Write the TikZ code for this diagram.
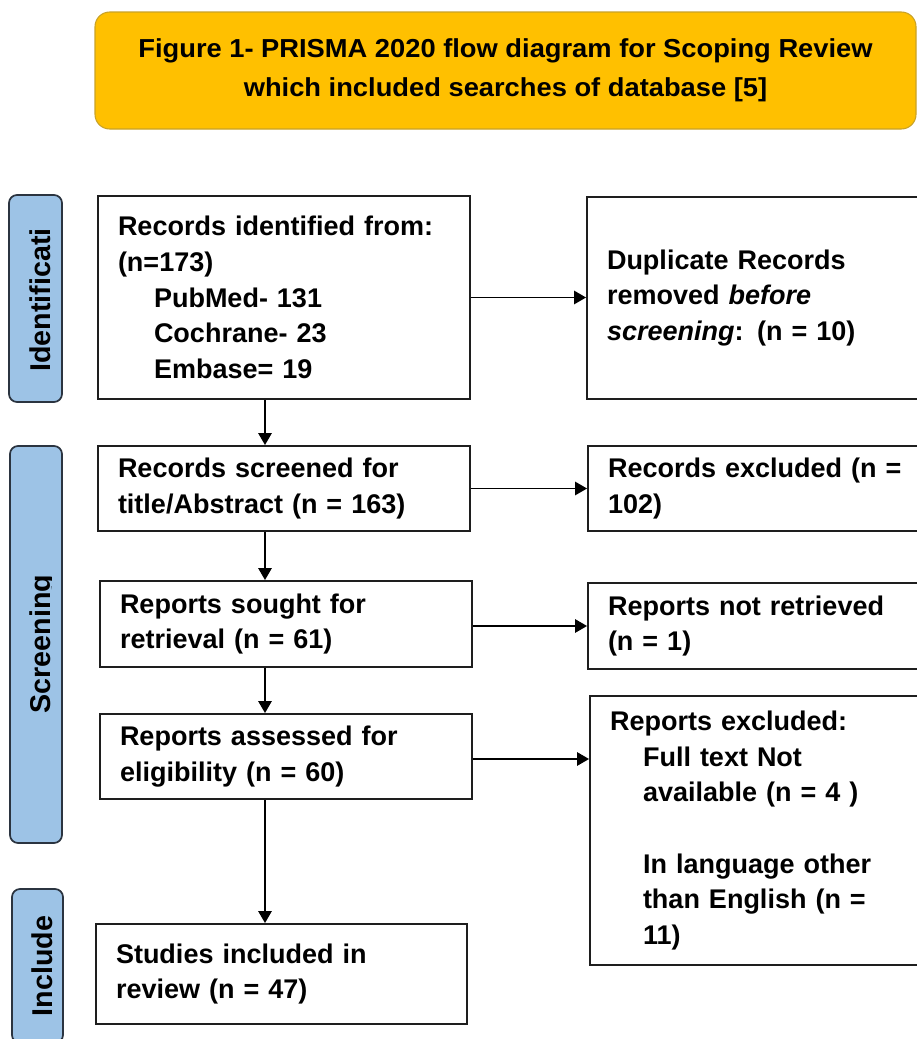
\documentclass[tikz,border=0pt]{standalone}
\usepackage{fontspec}
\setmainfont{Liberation Sans}
\newfontfamily\headfont[FakeStretch=1.05]{Liberation Sans}
\usetikzlibrary{arrows.meta}
\definecolor{gold}{HTML}{FFC000}
\definecolor{goldline}{HTML}{C9A227}
\definecolor{sideblue}{HTML}{9DC3E6}
\definecolor{sideline}{HTML}{2B3440}
\definecolor{boxline}{HTML}{1E1E1E}
\tikzset{
  mbox/.style={draw=boxline, line width=1.4pt, fill=white, rectangle, align=left,
    inner xsep=15pt, inner ysep=0pt, anchor=center,
    font=\bfseries\fontsize{20.25pt}{26.8pt}\selectfont},
  sidebox/.style={draw=sideline, line width=1.3pt, fill=sideblue, rounded corners=6pt},
  sidetext/.style={rotate=90, anchor=base, inner sep=0pt,
    font=\bfseries\fontsize{21.5pt}{26pt}\selectfont},
  arr/.style={-{Triangle[length=9pt,width=10pt]}, line width=1.4pt, draw=black},
  titlebox/.style={draw=goldline, line width=0.8pt, fill=gold, rounded corners=11pt,
    align=center, minimum width=615.75pt, minimum height=87.75pt,
    font=\headfont\bfseries\fontsize{19.5pt}{29.25pt}\selectfont}
}
\begin{document}
\begin{tikzpicture}[x=0.75pt, y=-0.75pt]
\useasboundingbox (0,0) rectangle (917,1039);
\clip (0,0) rectangle (917,1039);

% title
\node[titlebox] (title) at (505.5,70.5) {Figure 1- PRISMA 2020 flow diagram for Scoping Review\\which included searches of database [5]};

% side labels
\node[sidebox, minimum width=39.75pt, minimum height=155.25pt] (s1) at (35.5,298.5) {};
\node[sidebox, minimum width=39pt, minimum height=297.75pt] (s2) at (36,644.5) {};
\node[sidebox, minimum width=38.25pt, minimum height=115.5pt] (s3) at (37.5,966) {};
\node[sidetext] (t1) at (50,300) {Identificati};
\begin{scope}
  \clip (0,440) rectangle (51.5,850);
  \node[sidetext] (t2) at (50,644) {Screening};
\end{scope}
\node[sidetext] (t3) at (52,966) {Include};

% main column
\node[mbox, text width=249pt, minimum height=152.25pt] (b1) at (284,297.5)
  {Records identified from:\\(n=173)\\\hspace*{27pt}PubMed- 131\\\hspace*{27pt}Cochrane- 23\\\hspace*{27pt}Embase= 19};
\node[mbox, text width=249pt, minimum height=63.75pt] (b2) at (284,488.5)
  {Records screened for\\title/Abstract (n = 163)};
\node[mbox, text width=249pt, minimum height=64.5pt] (b3) at (286,624)
  {Reports sought for\\retrieval (n = 61)};
\node[mbox, text width=249pt, minimum height=63.75pt] (b4) at (286,756.5)
  {Reports assessed for\\eligibility (n = 60)};
\node[mbox, text width=248.25pt, minimum height=75pt] (b5) at (281.5,974)
  {Studies included in\\review (n = 47)};

% right column
\node[mbox, text width=234.75pt, minimum height=151.5pt] (r1) at (763.5,298)
  {Duplicate Records\\removed \textit{before}\\\textit{screening}: (n = 10)};
\node[mbox, text width=234pt, minimum height=63.75pt] (r2) at (764,488.5)
  {Records excluded (n =\\102)};
\node[mbox, text width=234pt, minimum height=64.5pt] (r3) at (764,626)
  {Reports not retrieved\\(n = 1)};
\node[mbox, text width=232.5pt, minimum height=201.75pt] (r4) at (765,830.5)
  {Reports excluded:\\\hspace*{24.75pt}Full text Not\\\hspace*{24.75pt}available (n = 4 )\\[26.8pt]\hspace*{24.75pt}In language other\\\hspace*{24.75pt}than English (n =\\\hspace*{24.75pt}11)};

% connectors
\coordinate (ax) at (265,0);
\draw[arr] (b1.south -| ax) -- (b2.north -| ax);
\draw[arr] (b2.south -| ax) -- (b3.north -| ax);
\draw[arr] (b3.south -| ax) -- (b4.north -| ax);
\draw[arr] (b4.south -| ax) -- (b5.north -| ax);
\draw[arr] (b1.east) -- (b1.east -| r1.west);
\draw[arr] (b2.east) -- (b2.east -| r2.west);
\draw[arr] (b3.east |- r3.west) -- (r3.west);
\coordinate (a4) at (0,759);
\draw[arr] (b4.east |- a4) -- (r4.west |- a4);
\end{tikzpicture}
\end{document}
